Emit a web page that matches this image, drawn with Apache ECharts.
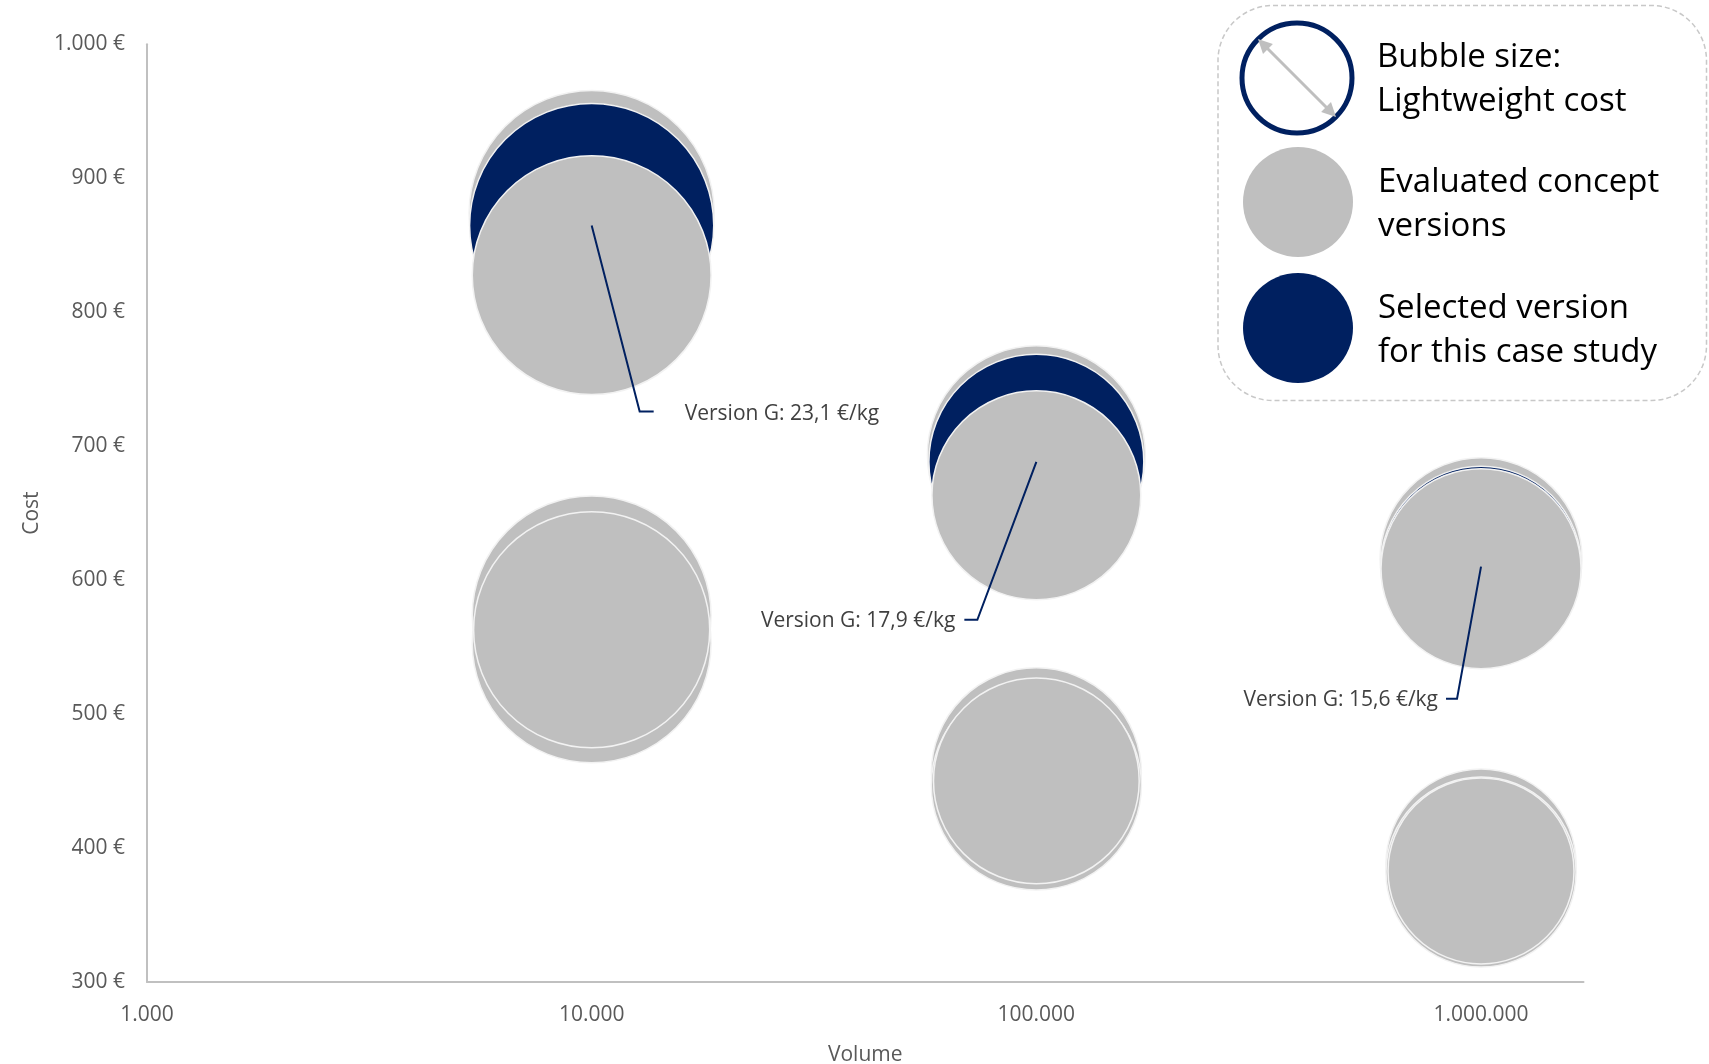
<!DOCTYPE html>
<html><head><meta charset="utf-8">
<script src="https://cdn.jsdelivr.net/npm/echarts@6/dist/echarts.min.js"></script>
<style>html,body{margin:0;padding:0;background:#fff}#chart{width:1709px;height:1064px}</style>
</head><body><div id="chart"></div>
<script>
// ---------- data ----------
const xTickValues = [1000, 10000, 100000, 1000000];
const yTickValues = [300, 400, 500, 600, 700, 800, 900, 1000];

// evaluated concept versions drawn behind the selected version
const evalBackVolume = [10000, 10000, 10000, 100000, 100000, 100000, 1000000, 1000000, 1000000];
const evalBackCost   = [873.9, 573.7, 552.8, 693.5, 456.1, 447.1, 615.9, 388.1, 382.1];
const evalBackLwCost = [23.3, 22.1, 22.1, 18.4, 17.1, 17.1, 15.8, 14.0, 14.0];

// selected version (Version G)
const selVolume = [10000, 100000, 1000000];
const selCost   = [864.6, 688.3, 610.0];
const selLwCost = [23.1, 17.9, 15.6];
const selName   = 'Version G';

// evaluated concept versions drawn in front
const evalFrontVolume = [10000, 10000, 100000, 100000, 1000000, 1000000];
const evalFrontCost   = [827.6, 562.9, 663.3, 450.1, 608.5, 382.9];
const evalFrontLwCost = [22.1, 21.6, 16.9, 16.4, 15.5, 13.4];

// legend texts
const legendLines = {
  'Evaluated concept versions': ['Evaluated concept', 'versions'],
  'Selected version for this case study': ['Selected version', 'for this case study']
};

// ---------- styles ----------
const NAVY = '#002060', GREY = '#BFBFBF';
const BUBBLE_K = 25.4; // radius in px per sqrt(€/kg)
const FONT = '"Open Sans", "Noto Sans", sans-serif';
const labelOffsets = [
  {elbow: [48, 186], end: [62, 186], text: [93, 188], align: 'left'},
  {elbow: [-59, 158], end: [-72, 158], text: [-81, 159], align: 'right'},
  {elbow: [-24, 132], end: [-35, 132], text: [-43, 133.5], align: 'right'}
];

const zip = (a, b, c) => a.map((v, i) => [v, b[i], c[i]]);
const sizeFn = v => 2 * BUBBLE_K * Math.sqrt(v[2]);
const fmtThousands = n => String(Math.round(n)).replace(/\B(?=(\d{3})+(?!\d))/g, '.');

const bubbleStyle = color => ({color: color, borderColor: '#F2F2F2', borderWidth: 1.5, opacity: 1});

const chart = echarts.init(document.getElementById('chart'));
chart.setOption({
  animation: false,
  backgroundColor: '#fff',
  grid: {left: 147, right: 125.5, top: 44.2, bottom: 82, containLabel: false, outerBoundsMode: 'none'},
  xAxis: {
    type: 'log', logBase: 10, min: 1000, max: 1700000,
    name: 'Volume', nameLocation: 'middle', nameGap: 63,
    nameTextStyle: {fontFamily: FONT, fontSize: 21, color: '#595959'},
    axisLine: {show: true, lineStyle: {color: '#C0C0C0', width: 2}},
    axisTick: {show: false}, splitLine: {show: false}, minorTick: {show: false},
    axisLabel: {
      fontFamily: FONT, fontSize: 21, color: '#595959', margin: 22.5,
      showMaxLabel: true,
      formatter: v => {
        const e = Math.log10(v), r = Math.round(e);
        if (Math.abs(e - r) > 1e-6) return '';
        const t = Math.pow(10, r);
        return xTickValues.includes(t) ? fmtThousands(t) : '';
      }
    }
  },
  yAxis: {
    type: 'value', min: yTickValues[0], max: yTickValues[yTickValues.length - 1], interval: 100,
    name: 'Cost', nameLocation: 'middle', nameGap: 104, nameRotate: 90,
    nameTextStyle: {fontFamily: FONT, fontSize: 21, color: '#595959'},
    axisLine: {show: true, lineStyle: {color: '#C0C0C0', width: 2}},
    axisTick: {show: false}, splitLine: {show: false},
    axisLabel: {fontFamily: FONT, fontSize: 21, color: '#595959', margin: 22,
      formatter: v => fmtThousands(v) + ' €'}
  },
  legend: {
    orient: 'vertical', left: 1238, top: 142,
    itemWidth: 110, itemHeight: 110, itemGap: 16, icon: 'circle',
    data: Object.keys(legendLines),
    formatter: n => '{f|' + legendLines[n][0] + '}\n{t|' + legendLines[n][1] + '}',
    textStyle: {fontFamily: FONT, fontSize: 33, color: '#000', lineHeight: 44, padding: [0, 0, 0, 20],
      rich: {
        f: {fontFamily: FONT, fontSize: 33, color: '#000', lineHeight: 44, padding: [6, 0, 0, 0]},
        t: {fontFamily: FONT, fontSize: 33, color: '#000', lineHeight: 44, padding: [6, 0, 0, 0]}
      }},
    itemStyle: {borderWidth: 0},
    selectedMode: false
  },
  graphic: [
    {type: 'rect', shape: {x: 1218, y: 5.5, width: 488.5, height: 395, r: 55},
     style: {fill: null, stroke: '#C8C8C8', lineWidth: 1.5, lineDash: [5, 3]}},
    {type: 'circle', shape: {cx: 1297, cy: 78, r: 55}, style: {fill: '#fff', stroke: NAVY, lineWidth: 5}},
    {type: 'line', shape: {x1: 1266, y1: 47, x2: 1328, y2: 109}, style: {stroke: GREY, lineWidth: 3}},
    {type: 'polygon', shape: {points: [[1258, 39], [1272.9, 44], [1263, 53.9]]}, style: {fill: GREY}},
    {type: 'polygon', shape: {points: [[1336, 117], [1321.1, 112], [1331, 102.1]]}, style: {fill: GREY}},
    {type: 'text', x: 1377, y: 79.5, style: {text: 'Bubble size:\nLightweight cost', font: '33px ' + FONT,
      fill: '#000', lineHeight: 44, verticalAlign: 'middle', align: 'left'}}
  ],
  series: [
    {name: 'Evaluated concept versions', type: 'scatter', data: zip(evalBackVolume, evalBackCost, evalBackLwCost),
     symbolSize: sizeFn, itemStyle: bubbleStyle(GREY), emphasis: {disabled: true}},
    {name: 'Selected version for this case study', type: 'scatter', data: zip(selVolume, selCost, selLwCost),
     symbolSize: sizeFn, itemStyle: bubbleStyle(NAVY), emphasis: {disabled: true}},
    {name: 'Evaluated concept versions', type: 'scatter', data: zip(evalFrontVolume, evalFrontCost, evalFrontLwCost),
     symbolSize: sizeFn, itemStyle: bubbleStyle(GREY), emphasis: {disabled: true}},
    {name: 'labels', type: 'custom', coordinateSystem: 'cartesian2d', silent: true, z: 10,
     data: zip(selVolume, selCost, selLwCost),
     renderItem: (params, api) => {
       const p = api.coord([api.value(0), api.value(1)]);
       const o = labelOffsets[params.dataIndex];
       const txt = selName + ': ' + api.value(2).toFixed(1).replace('.', ',') + ' €/kg';
       return {type: 'group', children: [
         {type: 'polyline', shape: {points: [p, [p[0] + o.elbow[0], p[1] + o.elbow[1]], [p[0] + o.end[0], p[1] + o.end[1]]]},
          style: {stroke: NAVY, lineWidth: 2, fill: null}},
         {type: 'text', x: p[0] + o.text[0], y: p[1] + o.text[1],
          style: {text: txt, font: '21px ' + FONT, fill: '#404040', align: o.align, verticalAlign: 'middle'}}
       ]};
     }}
  ]
});
</script></body></html>
